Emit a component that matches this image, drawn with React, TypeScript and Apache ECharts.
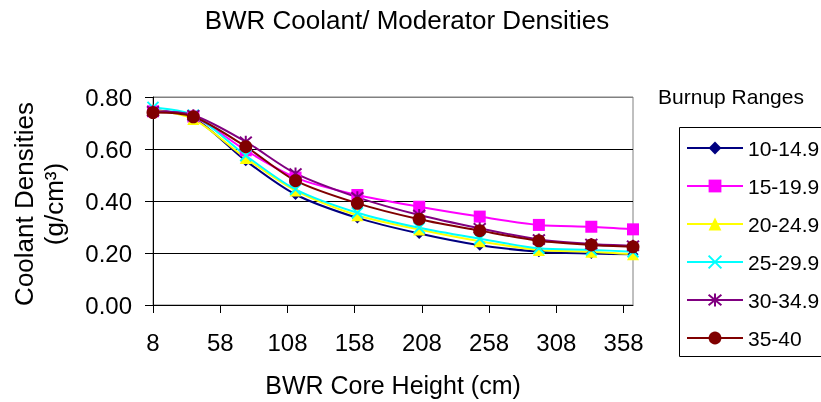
import React, { useEffect, useRef } from 'react';
import * as echarts from 'echarts';

const heights = [8, 38, 77, 114, 160, 206, 251, 295, 334, 365];
const seriesNames = ['10-14.9', '15-19.9', '20-24.9', '25-29.9', '30-34.9', '35-40'];
const dens10 = [0.75, 0.72, 0.555, 0.425, 0.335, 0.275, 0.23, 0.205, 0.198, 0.195];
const dens15 = [0.745, 0.725, 0.595, 0.49, 0.423, 0.378, 0.34, 0.308, 0.301, 0.291];
const dens20 = [0.75, 0.715, 0.565, 0.44, 0.345, 0.29, 0.245, 0.212, 0.205, 0.195];
const dens25 = [0.76, 0.73, 0.575, 0.445, 0.355, 0.297, 0.255, 0.218, 0.212, 0.205];
const dens30 = [0.745, 0.73, 0.628, 0.506, 0.414, 0.346, 0.295, 0.252, 0.235, 0.228];
const dens35 = [0.74, 0.724, 0.609, 0.478, 0.391, 0.33, 0.286, 0.247, 0.231, 0.224];
const xTicks = [8, 58, 108, 158, 208, 258, 308, 358];

const FONT = 'Liberation Sans, Arial, sans-serif';

export default function App() {
  const ref = useRef<HTMLDivElement>(null);
  useEffect(() => {
    const chart = echarts.init(ref.current as HTMLDivElement, undefined, { renderer: 'svg' });
    const allData = [dens10, dens15, dens20, dens25, dens30, dens35];
    const colors = ['#000080', '#FF00FF', '#FFFF00', '#00FFFF', '#800080', '#800000'];
    const symbols = [
      'diamond',
      'rect',
      'triangle',
      'path://M0,0L10,10M10,0L0,10',
      'path://M0,0L10,10M10,0L0,10M5,-1L5,11',
      'circle',
    ];
    const sizes = [11, 12, 12, 11, 12, 13];
    const series = allData.map((vals, i) => ({
      name: seriesNames[i],
      type: 'line',
      data: heights.map((h, j) => [h, vals[j]]),
      smooth: 0.3,
      symbol: symbols[i],
      symbolSize: sizes[i],
      lineStyle: { color: colors[i], width: 2 },
      itemStyle:
        i === 3 || i === 4
          ? { color: colors[i], borderColor: colors[i], borderWidth: 2 }
          : { color: colors[i] },
    }));
    chart.setOption({
      animation: false,
      textStyle: { fontFamily: FONT },
      grid: {
        left: 153,
        top: 97,
        right: 188,
        bottom: 97,
        show: true,
        borderColor: '#808080',
        borderWidth: 1,
      },
      xAxis: {
        type: 'value',
        min: 8,
        max: 365,
        axisLine: { show: true, onZero: false, lineStyle: { color: '#000', width: 1 } },
        axisTick: { show: true, length: 8, customValues: xTicks, lineStyle: { color: '#000' } },
        axisLabel: { customValues: xTicks, margin: 25, fontSize: 24, color: '#000', fontFamily: FONT },
        splitLine: { show: false },
        name: 'BWR Core Height (cm)',
        nameLocation: 'middle',
        nameGap: 67,
        nameTextStyle: { fontSize: 25, color: '#000', fontFamily: FONT },
      },
      yAxis: {
        type: 'value',
        min: 0,
        max: 0.8,
        interval: 0.2,
        axisLine: { show: true, onZero: false, lineStyle: { color: '#000', width: 1 } },
        axisTick: { show: true, length: 8, lineStyle: { color: '#000' } },
        axisLabel: {
          margin: 21,
          fontSize: 24,
          color: '#000',
          fontFamily: FONT,
          formatter: (v: number) => v.toFixed(2),
        },
        splitLine: { show: true, lineStyle: { color: ['#000', '#000', '#000', '#000', '#808080'], width: 1 } },
      },
      legend: {
        orient: 'vertical',
        left: 686,
        top: 137,
        padding: 0,
        itemWidth: 56,
        itemHeight: 16,
        itemGap: 16,
        textStyle: { fontSize: 21, lineHeight: 22, color: '#000', fontFamily: FONT },
        data: seriesNames,
      },
      graphic: [
        {
          type: 'text',
          x: 407,
          y: 20,
          style: { text: 'BWR Coolant/ Moderator Densities', fontSize: 26, fill: '#000', fontFamily: FONT, align: 'center', verticalAlign: 'middle' },
        },
        {
          type: 'text',
          x: 731,
          y: 96,
          style: { text: 'Burnup Ranges', fontSize: 21, fill: '#000', fontFamily: FONT, align: 'center', verticalAlign: 'middle' },
        },
        {
          type: 'text',
          x: 24,
          y: 204,
          rotation: Math.PI / 2,
          style: { text: 'Coolant Densities', fontSize: 26, fill: '#000', fontFamily: FONT, align: 'center', verticalAlign: 'middle' },
        },
        {
          type: 'text',
          x: 54,
          y: 204,
          rotation: Math.PI / 2,
          style: { text: '(g/cm³)', fontSize: 26, fill: '#000', fontFamily: FONT, align: 'center', verticalAlign: 'middle' },
        },
        {
          type: 'rect',
          shape: { x: 679.5, y: 127.5, width: 160, height: 229 },
          style: { fill: 'none', stroke: '#000', lineWidth: 1 },
        },
      ],
      series,
    });
    return () => chart.dispose();
  }, []);
  return <div ref={ref} style={{ position: 'fixed', left: 0, top: 0, width: 821, height: 402 }} />;
}
